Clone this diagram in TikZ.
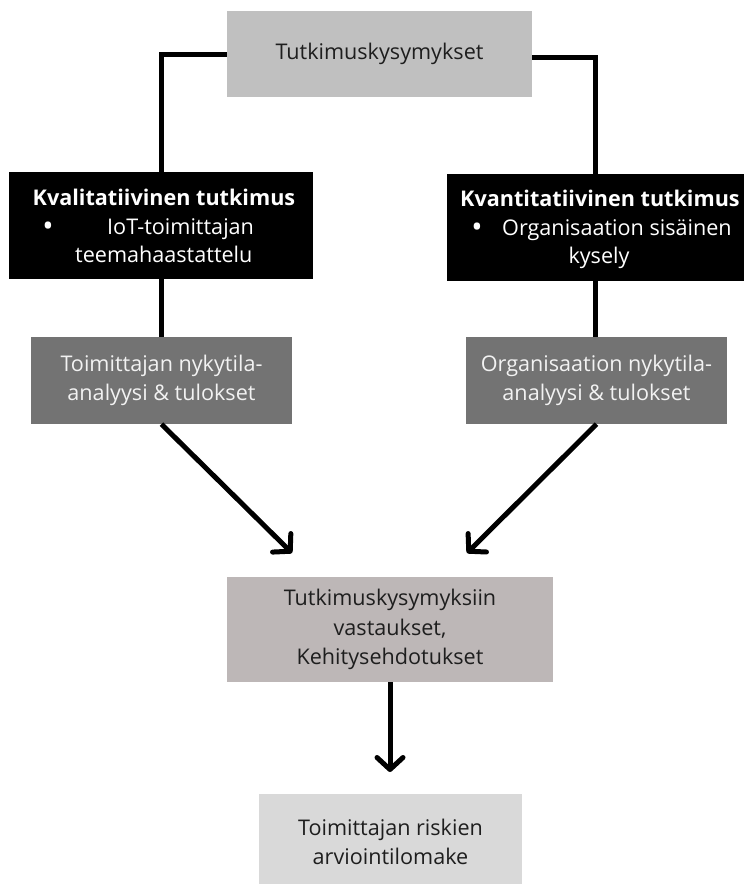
\documentclass[tikz,border=0pt]{standalone}
\usepackage{fontspec}
\setmainfont{Open Sans}
\usetikzlibrary{arrows.meta}
\definecolor{topgray}{HTML}{C0C0C0}
\definecolor{midgray}{HTML}{737373}
\definecolor{warmgray}{HTML}{BDB7B7}
\definecolor{lightgray}{HTML}{D9D9D9}
\definecolor{darktext}{HTML}{1E1E1E}
\definecolor{lighttext}{HTML}{F2F2F2}
\begin{document}
\begin{tikzpicture}[x=1pt,y=-1pt,
  every node/.style={font=\fontsize{21.6}{29.5}\selectfont, inner sep=0pt},
  box/.style={rectangle, draw=none, align=center},
  lightbox/.style={box, text=darktext},
  darkbox/.style={box, fill=black, text=white},
  graybox/.style={box, fill=midgray, text=lighttext},
  intext/.style={text=white, anchor=base},
  bulletmark/.style={text=white, anchor=base, font=\fontsize{30}{29}\selectfont},
  conn/.style={line width=5pt},
  arr/.style={line width=5pt, -{Straight Barb[round,length=12pt,width=26pt]}}
]
\useasboundingbox (0,0) rectangle (744,884);
% boxes
\node[lightbox, fill=topgray, minimum width=305pt, minimum height=86pt] (top) at (379.5,54) {Tutkimuskysymykset};
\node[darkbox, minimum width=304pt, minimum height=107pt] (kval) at (161,225.5) {};
\node[darkbox, minimum width=297pt, minimum height=107pt] (kvant) at (595.5,227.5) {};
\node[graybox, minimum width=261pt, minimum height=87pt] (tnyk) at (161.5,380.5) {Toimittajan nykytila-\\analyysi \& tulokset};
\node[graybox, minimum width=261pt, minimum height=87pt] (onyk) at (596.5,380.5) {Organisaation nykytila-\\analyysi \& tulokset};
\node[lightbox, fill=warmgray, minimum width=326pt, minimum height=105pt] (vast) at (390,629.5) {Tutkimuskysymyksiin\\vastaukset,\\Kehitysehdotukset};
\node[lightbox, fill=lightgray, minimum width=263pt, minimum height=97pt] (risk) at (390.5,842) {Toimittajan riskien\\arviointilomake};
% texts in black boxes
\node[intext, font=\fontsize{21.6}{29}\selectfont\bfseries] (kvalh) at (164,205) {Kvalitatiivinen tutkimus};
\node[bulletmark] (kvalb) at (48,236) {•};
\node[intext, anchor=base west] (kvall2) at (107,234) {IoT-toimittajan};
\node[intext, anchor=base west] (kvall3) at (75,262) {teemahaastattelu};
\node[intext, font=\fontsize{21.6}{29}\selectfont\bfseries] (kvanth) at (600,206) {Kvantitatiivinen tutkimus};
\node[bulletmark] (kvantb) at (477,237) {•};
\node[intext, anchor=base west] (kvantl2) at (502,235) {Organisaation sisäinen};
\node[intext] (kvantl3) at (599,263) {kysely};
% arrow end points
\coordinate (a1) at (292,553);
\coordinate (a2) at (467,553);
\coordinate (a3) at (390,772);
% connectors
\draw[conn] (top.west) -| (kval.north);
\draw[conn] ([yshift=-3pt]top.east) -| (kvant.north);
\draw[conn] (kval.south) -- (kval.south |- tnyk.north);
\draw[conn] (kvant.south) -- (kvant.south |- onyk.north);
\draw[arr] (tnyk.south) -- (a1);
\draw[arr] (onyk.south) -- (a2);
\draw[arr] (vast.south) -- (a3);
\end{tikzpicture}
\end{document}
